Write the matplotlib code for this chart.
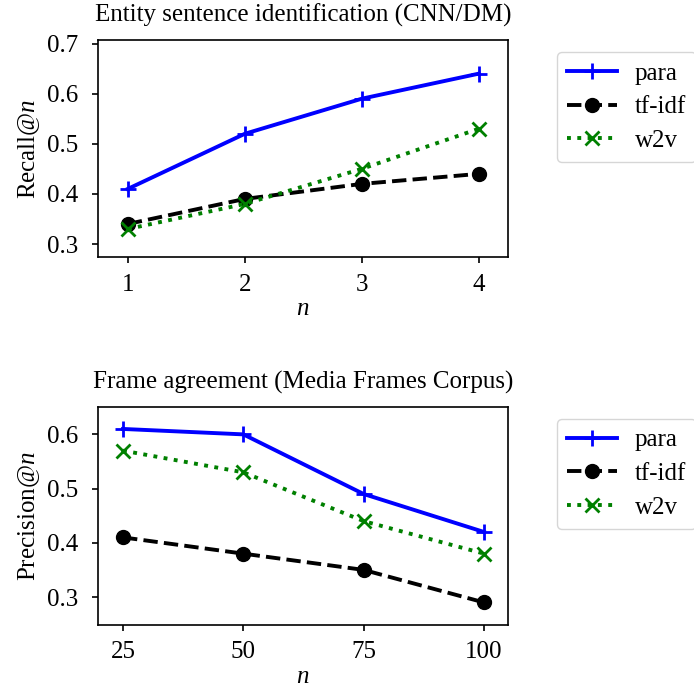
import matplotlib
matplotlib.use("Agg")
import matplotlib.pyplot as plt

plt.rcParams["font.family"] = ["Liberation Serif", "DejaVu Serif"]
plt.rcParams["mathtext.fontset"] = "custom"
plt.rcParams["mathtext.it"] = "Liberation Serif:italic"
plt.rcParams["mathtext.rm"] = "Liberation Serif"

# top panel: entity sentence identification
n_top = [1, 2, 3, 4]
para_top = [0.41, 0.52, 0.59, 0.64]
tfidf_top = [0.34, 0.39, 0.42, 0.44]
w2v_top = [0.33, 0.38, 0.45, 0.53]

# bottom panel: frame agreement
n_bot = [25, 50, 75, 100]
para_bot = [0.61, 0.60, 0.49, 0.42]
tfidf_bot = [0.41, 0.38, 0.35, 0.29]
w2v_bot = [0.57, 0.53, 0.44, 0.38]

fig = plt.figure(figsize=(6.94, 6.91), dpi=100)
ax1 = fig.add_axes([0.1412, 0.628, 0.5908, 0.314])
ax2 = fig.add_axes([0.1412, 0.096, 0.5908, 0.315])


def draw(ax, x, para, tfidf, w2v):
    ax.plot(x, para, color="blue", lw=2.8, marker="+", ms=12, mew=2, label="para")
    ax.plot(x, tfidf, color="black", lw=2.8, ls="--", marker="o", ms=10, label="tf-idf")
    ax.plot(x, w2v, color="green", lw=2.8, ls=":", marker="x", ms=10, mew=2, label="w2v")
    ax.set_xticks(x)
    ax.tick_params(labelsize=18, length=4, width=1.2)
    ax.tick_params(axis="x", pad=8)
    ax.tick_params(axis="y", pad=10)
    ax.set_xlabel("$n$", fontsize=18, labelpad=2)
    for s in ax.spines.values():
        s.set_linewidth(1.2)
    ax.legend(loc="upper left", bbox_to_anchor=(1.12, 0.945), borderaxespad=0,
              fontsize=18, handlelength=2.0, handletextpad=0.7, labelspacing=0.45,
              edgecolor="#cccccc")


draw(ax1, n_top, para_top, tfidf_top, w2v_top)
ax1.set_xlim(0.745, 4.25)
ax1.set_ylim(0.274, 0.707)
ax1.set_yticks([0.3, 0.4, 0.5, 0.6, 0.7])
ax1.set_ylabel("Recall@$n$", fontsize=18)
ax1.set_title("Entity sentence identification (CNN/DM)", fontsize=18, pad=13)

draw(ax2, n_bot, para_bot, tfidf_bot, w2v_bot)
ax2.set_xlim(19.8, 105)
ax2.set_ylim(0.249, 0.6505)
ax2.set_yticks([0.3, 0.4, 0.5, 0.6])
ax2.set_ylabel("Precision@$n$", fontsize=18)
ax2.set_title("Frame agreement (Media Frames Corpus)", fontsize=18, pad=13)

fig.savefig("out.png", dpi=100)
